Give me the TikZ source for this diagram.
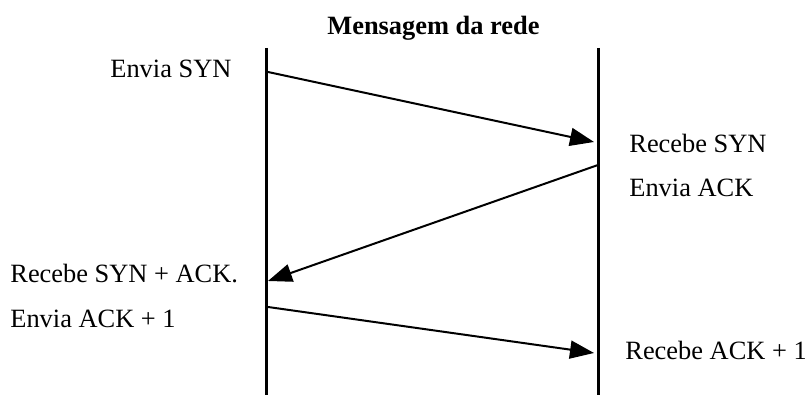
\documentclass[tikz,border=0pt]{standalone}
\usepackage{fontspec}
\setmainfont{Liberation Serif}
\usetikzlibrary{arrows.meta}

\tikzset{
  vida/.style={line width=1.6pt},
  msg/.style={line width=1pt,-{Triangle[length=12pt,width=9pt]}},
  rotulo/.style={anchor=base west,inner sep=0pt,font=\fontsize{13.2}{16}\selectfont}
}

\begin{document}
\begin{tikzpicture}[x=0.5pt,y=0.5pt]
        \useasboundingbox (0,0) rectangle (805,395);

        % Titulo
        \node[rotulo,font=\fontsize{13.2}{16}\selectfont\bfseries] (titulo) at (327,360) {Mensagem da rede};

        % Linhas de vida
        \coordinate (A1) at (266.5,347);
        \coordinate (A2) at (266.5,0);
        \coordinate (B1) at (598.5,347);
        \coordinate (B2) at (598.5,0);
        \draw[vida] (A1) -- (A2);
        \draw[vida] (B1) -- (B2);

        % Pontos das mensagens
        \coordinate (P1) at (268,323);
        \coordinate (Q1) at (594,253);
        \coordinate (P2) at (598,230);
        \coordinate (Q2) at (268,114);
        \coordinate (P3) at (268,88);
        \coordinate (Q3) at (594,42);

        % Mensagens
        \draw[msg] (P1) -- (Q1);
        \draw[msg] (P2) -- (Q2);
        \draw[msg] (P3) -- (Q3);

        % Rotulos
        \node[rotulo] (envsyn) at (110,317) {Envia SYN};
        \node[rotulo] (recsyn) at (629,242) {Recebe SYN};
        \node[rotulo] (envack) at (629,198) {Envia ACK};
        \node[rotulo] (recsynack) at (10,112) {Recebe SYN + ACK.};
        \node[rotulo] (envack1) at (10,67) {Envia ACK + 1};
        \node[rotulo] (recack1) at (625,35) {Recebe ACK + 1};
    \end{tikzpicture}
\end{document}
